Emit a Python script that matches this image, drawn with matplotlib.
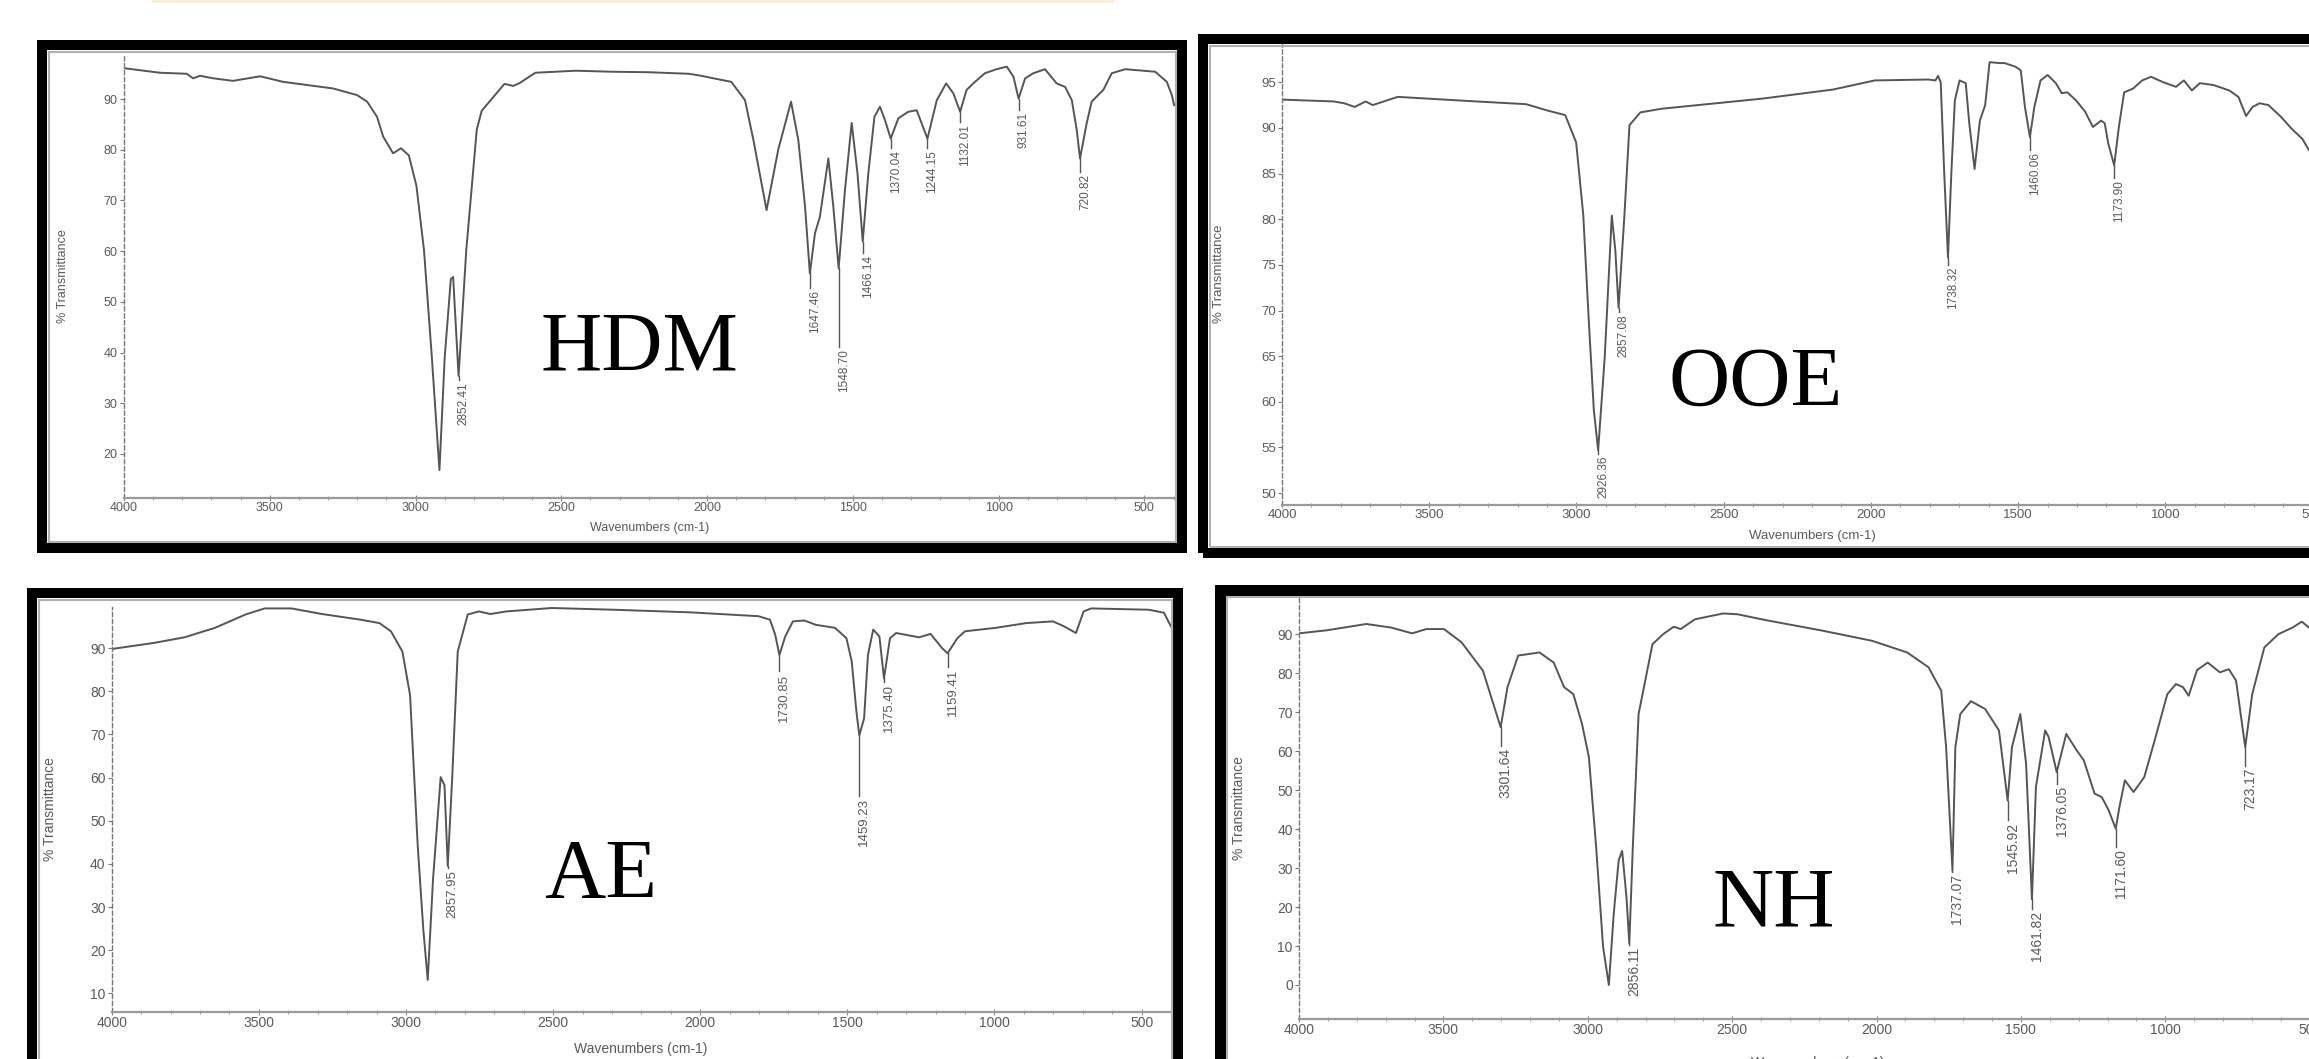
import matplotlib
matplotlib.use('Agg')
import matplotlib.pyplot as plt
from matplotlib.patches import Rectangle
from matplotlib.ticker import MultipleLocator

W, H = 2309, 1059

# spectra: (wavenumber cm-1, %T)
hdm = [(4000, 96.1), (3877, 95.2), (3785, 95.0), (3763, 94.1), (3739, 94.6), (3694, 94.1),
       (3626, 93.6), (3533, 94.5), (3454, 93.4), (3283, 92.1), (3201, 90.8), (3166, 89.5),
       (3132, 86.5), (3111, 82.6), (3077, 79.3), (3050, 80.3), (3023, 78.9), (2997, 72.9),
       (2971, 60.2), (2944, 39.0), (2918, 16.8), (2900, 39.0), (2879, 54.5), (2871, 54.9),
       (2852.41, 35.4), (2826, 60.2), (2790, 84.0), (2773, 87.7), (2695, 93.0), (2665, 92.6),
       (2642, 93.2), (2589, 95.2), (2450, 95.6), (2326, 95.4), (2200, 95.3), (2063, 95.0),
       (2030, 94.7), (1917, 93.4), (1870, 89.8), (1841, 81.9), (1796, 68.1), (1756, 80.0),
       (1712, 89.5), (1687, 81.9), (1664, 68.8), (1647.46, 55.6), (1630, 63.5), (1613, 66.8),
       (1584, 78.3), (1567, 68.8), (1548.70, 56.6), (1527, 72.1), (1504, 85.3), (1484, 75.3),
       (1466.14, 61.9), (1447, 75.3), (1426, 86.5), (1407, 88.5), (1390, 85.9), (1370.04, 82.2),
       (1344, 86.2), (1310, 87.5), (1281, 87.8), (1264, 85.2), (1244.15, 82.2), (1212, 89.8),
       (1180, 93.1), (1155, 91.1), (1132.01, 87.5), (1110, 91.8), (1087, 93.1), (1047, 95.1),
       (1007, 95.9), (972, 96.4), (949, 94.4), (931.61, 90.1), (909, 94.1), (881, 95.1),
       (841, 95.9), (801, 93.1), (772, 92.4), (749, 89.8), (732, 83.9), (720.82, 78.3),
       (698, 85.2), (681, 89.5), (641, 91.8), (612, 95.1), (566, 95.9), (463, 95.4),
       (423, 93.4), (406, 90.8), (398, 88.8)]

ooe = [(4000, 93.1), (3825, 92.9), (3789, 92.7), (3753, 92.3), (3716, 92.9), (3692, 92.5),
       (3607, 93.4), (3341, 92.9), (3171, 92.6), (3098, 91.9), (3038, 91.4), (3001, 88.4),
       (2977, 80.5), (2958, 68.8), (2941, 59.1), (2926.36, 54.7), (2904, 64.9), (2880, 80.4),
       (2868, 76.6), (2857.08, 70.3), (2837, 80.5), (2820, 90.3), (2783, 91.7), (2711, 92.1),
       (2371, 93.2), (2129, 94.2), (1987, 95.2), (1805, 95.3), (1781, 95.2), (1772, 95.7),
       (1763, 95.0), (1751, 85.0), (1738.32, 75.8), (1727, 85.0), (1715, 93.0), (1699, 95.2),
       (1678, 94.9), (1666, 90.5), (1648, 85.5), (1630, 90.8), (1612, 92.5), (1597, 97.2),
       (1564, 97.1), (1546, 97.1), (1509, 96.7), (1491, 96.3), (1477, 92.3), (1460.06, 89.0),
       (1445, 92.3), (1424, 95.2), (1400, 95.8), (1372, 94.9), (1352, 93.8), (1333, 93.9),
       (1303, 93.0), (1273, 91.8), (1246, 90.1), (1218, 90.8), (1206, 90.5), (1194, 88.3),
       (1173.90, 85.9), (1158, 90.1), (1140, 93.9), (1110, 94.3), (1079, 95.2), (1049, 95.6),
       (1007, 95.0), (964, 94.5), (937, 95.2), (910, 94.1), (883, 94.9), (837, 94.7),
       (783, 94.1), (752, 93.4), (726, 91.3), (704, 92.3), (680, 92.7), (650, 92.5),
       (607, 91.2), (571, 89.9), (535, 88.8), (513, 87.6)]

ae = [(4000, 89.8), (3857, 91.2), (3753, 92.5), (3649, 94.7), (3545, 97.8), (3480, 99.2),
      (3389, 99.2), (3285, 97.9), (3155, 96.6), (3090, 95.8), (3051, 93.9), (3012, 89.2),
      (2986, 79.1), (2960, 44.2), (2941, 24.8), (2926, 13.1), (2908, 36.4), (2882, 60.1),
      (2869, 58.2), (2857.95, 39.5), (2843, 59.7), (2824, 89.2), (2790, 97.8), (2752, 98.5),
      (2713, 97.9), (2660, 98.5), (2504, 99.3), (2296, 98.9), (2036, 98.3), (1802, 97.4),
      (1763, 96.6), (1745, 93.1), (1730.85, 88.4), (1711, 92.7), (1685, 96.2), (1646, 96.4),
      (1607, 95.4), (1542, 94.7), (1503, 92.3), (1485, 86.9), (1469, 75.2), (1459.23, 69.8),
      (1443, 73.7), (1430, 88.4), (1412, 94.3), (1391, 92.7), (1375.40, 83.0), (1355, 92.3),
      (1334, 93.5), (1256, 92.5), (1217, 93.3), (1178, 90.0), (1159.41, 88.8), (1126, 92.3),
      (1100, 93.9), (996, 94.7), (892, 95.8), (801, 96.2), (762, 95.0), (723, 93.5),
      (697, 98.5), (671, 99.2), (476, 98.9), (424, 98.2), (400, 95.0)]

nh = [(4000, 90.2), (3902, 91.0), (3767, 92.6), (3682, 91.7), (3608, 90.2), (3559, 91.3),
      (3498, 91.3), (3437, 87.9), (3363, 80.6), (3327, 72.1), (3301.64, 66.1), (3278, 76.4),
      (3241, 84.5), (3167, 85.3), (3118, 82.7), (3082, 76.4), (3050, 74.6), (3020, 67.0),
      (2996, 58.4), (2971, 35.4), (2947, 9.8), (2927, 0.0), (2910, 18.3), (2893, 32.0),
      (2881, 34.4), (2866, 22.6), (2856.11, 10.7), (2844, 35.4), (2824, 69.5), (2776, 87.4),
      (2739, 90.0), (2702, 91.9), (2678, 91.3), (2629, 93.8), (2531, 95.3), (2482, 95.1),
      (2384, 93.6), (2188, 90.9), (2016, 88.3), (1894, 85.3), (1820, 81.5), (1776, 75.5),
      (1759, 61.0), (1737.07, 29.4), (1727, 61.0), (1710, 69.5), (1673, 72.8), (1624, 70.8),
      (1576, 65.3), (1545.92, 47.3), (1531, 61.0), (1502, 69.5), (1482, 56.7), (1461.82, 22.0),
      (1448, 50.8), (1416, 65.3), (1404, 63.6), (1376.05, 54.6), (1343, 64.4), (1306, 60.1),
      (1282, 57.6), (1245, 49.1), (1220, 48.2), (1196, 44.8), (1171.60, 40.1), (1159, 45.6),
      (1140, 52.5), (1110, 49.5), (1073, 53.3), (1037, 62.7), (993, 74.6), (963, 77.2),
      (939, 76.4), (919, 74.2), (890, 80.8), (853, 82.7), (811, 80.2), (780, 81.0),
      (755, 78.1), (723.17, 61.0), (699, 74.6), (657, 86.6), (608, 90.0), (559, 91.7),
      (527, 93.2), (503, 91.7)]

# peak labels and where the leader line stops (%T)
hdm_peaks = ['2852.41', '1647.46', '1548.70', '1466.14', '1370.04', '1244.15', '1132.01', '931.61', '720.82']
hdm_peak_end = [34.6, 52.7, 41.1, 59.6, 80.3, 80.3, 85.5, 87.8, 75.7]
ooe_peaks = ['2926.36', '2857.08', '1738.32', '1460.06', '1173.90']
ooe_peak_end = [54.3, 69.8, 75.0, 87.6, 84.5]
ae_peaks = ['2857.95', '1730.85', '1459.23', '1375.40', '1159.41']
ae_peak_end = [39.0, 84.6, 55.8, 82.2, 85.7]
nh_peaks = ['3301.64', '2856.11', '1737.07', '1545.92', '1461.82', '1376.05', '1171.60', '723.17']
nh_peak_end = [61.4, 10.2, 29.0, 42.2, 19.6, 51.6, 35.4, 56.3]

x_ticks = [4000, 3500, 3000, 2500, 2000, 1500, 1000, 500]

LINE = '#555555'
TXT = '#5a5a5a'


def frac(x0, y0, x1, y1):
    return [x0 / W, 1 - y1 / H, (x1 - x0) / W, (y1 - y0) / H]


def box(fig, x0, y0, x1, y1, t):
    fig.add_artist(Rectangle(((x0 + t / 2) / W, 1 - (y1 - t / 2) / H),
                             (x1 - x0 - t) / W, (y1 - y0 - t) / H,
                             transform=fig.transFigure, fill=False, ec='black',
                             lw=t * 0.72, joinstyle='miter'))
    g = t + 1.5
    fig.add_artist(Rectangle(((x0 + g) / W, 1 - (y1 - g) / H),
                             (x1 - x0 - 2 * g) / W, (y1 - y0 - 2 * g) / H,
                             transform=fig.transFigure, fill=False, ec='#b0b0b0', lw=1.5))


def panel(fig, spec, peaks, peak_end, ax_px, xright, ylim, yticks,
          name, name_xy, ylab_xy, xlab_xy, fs, fs_peak):
    ax = fig.add_axes(frac(*ax_px))
    ax.set_facecolor('none')
    wn = [p[0] for p in spec]
    tr = [p[1] for p in spec]
    ax.plot(wn, tr, color=LINE, lw=1.4, solid_joinstyle='round')

    lookup = dict(spec)
    for lab, yend in zip(peaks, peak_end):
        x = float(lab)
        ax.plot([x, x], [lookup[x], yend], color=LINE, lw=1.0)
        ax.annotate(lab, xy=(x, yend), xytext=(3.6, -1.5), textcoords='offset points',
                    rotation=90, ha='center', va='top', fontsize=fs_peak, color=TXT,
                    family='Liberation Sans')

    ax.set_xlim(4000, xright)
    ax.set_ylim(*ylim)
    ax.set_xticks(x_ticks)
    ax.set_xticklabels([str(v) for v in x_ticks])
    ax.xaxis.set_minor_locator(MultipleLocator(100))
    ax.set_yticks(yticks)
    ax.set_yticklabels([str(v) for v in yticks])

    for s in ['top', 'right']:
        ax.spines[s].set_visible(False)
    ax.spines['left'].set_linestyle((0, (3, 2)))
    ax.spines['left'].set_color('#777777')
    ax.spines['left'].set_linewidth(1.0)
    ax.spines['bottom'].set_color('#9a9a9a')
    ax.spines['bottom'].set_linewidth(1.6)

    ax.tick_params(axis='y', direction='out', length=3, width=0.8, color='#777777',
                   pad=1.5, labelsize=fs, labelcolor=TXT)
    ax.tick_params(axis='x', which='major', direction='inout', length=4, width=0.8,
                   color='#888888', pad=1, labelsize=fs, labelcolor=TXT)
    ax.tick_params(axis='x', which='minor', direction='inout', length=3, width=0.7,
                   color='#999999')
    for lbl in ax.get_xticklabels() + ax.get_yticklabels():
        lbl.set_family('Liberation Sans')

    fig.text(ylab_xy[0] / W, 1 - ylab_xy[1] / H, '% Transmittance', rotation=90,
             ha='center', va='center', fontsize=fs, color=TXT, family='Liberation Sans')
    fig.text(xlab_xy[0] / W, 1 - xlab_xy[1] / H, 'Wavenumbers (cm-1)',
             ha='center', va='center', fontsize=fs, color=TXT, family='Liberation Sans')
    fig.text(name_xy[0] / W, 1 - name_xy[1] / H, name, ha='center', va='baseline',
             fontsize=61, family='Liberation Serif', color='black')
    return ax


fig = plt.figure(figsize=(W / 100, H / 100), dpi=100)
fig.patch.set_facecolor('white')

# faint strip at the very top
fig.add_artist(Rectangle((152 / W, 1 - 3 / H), (1115 - 152) / W, 3 / H,
                         transform=fig.transFigure, color='#fbeed6', lw=0))

box(fig, 37, 40, 1187, 553, 10)
box(fig, 1198, 34, 2330, 558, 10)
box(fig, 27, 588, 1183, 1090, 10)
box(fig, 1214, 584, 2330, 1090, 11)

panel(fig, hdm, hdm_peaks, hdm_peak_end, (124, 55, 1175, 498), 395, (11.3, 98.7),
      [20, 30, 40, 50, 60, 70, 80, 90], 'HDM', (639, 371), (63, 276), (650, 528), 9, 8.5)
panel(fig, ooe, ooe_peaks, ooe_peak_end, (1282, 43, 2340, 505), 407, (48.7, 99.3),
      [50, 55, 60, 65, 70, 75, 80, 85, 90, 95], 'OOE', (1756, 406), (1219, 274), (1812, 536), 9.5, 8.5)
panel(fig, ae, ae_peaks, ae_peak_end, (111.7, 606.7, 1171, 1012.3), 400, (5.6, 99.6),
      [10, 20, 30, 40, 50, 60, 70, 80, 90], 'AE', (601, 898), (50, 809), (641, 1049), 10, 9.5)
panel(fig, nh, nh_peaks, nh_peak_end, (1299, 596.7, 2340, 1019.3), 395, (-8.8, 99.6),
      [0, 10, 20, 30, 40, 50, 60, 70, 80, 90], 'NH', (1774, 926), (1239, 808), (1818, 1063), 10, 10)

fig.savefig('out.png', dpi=100)
